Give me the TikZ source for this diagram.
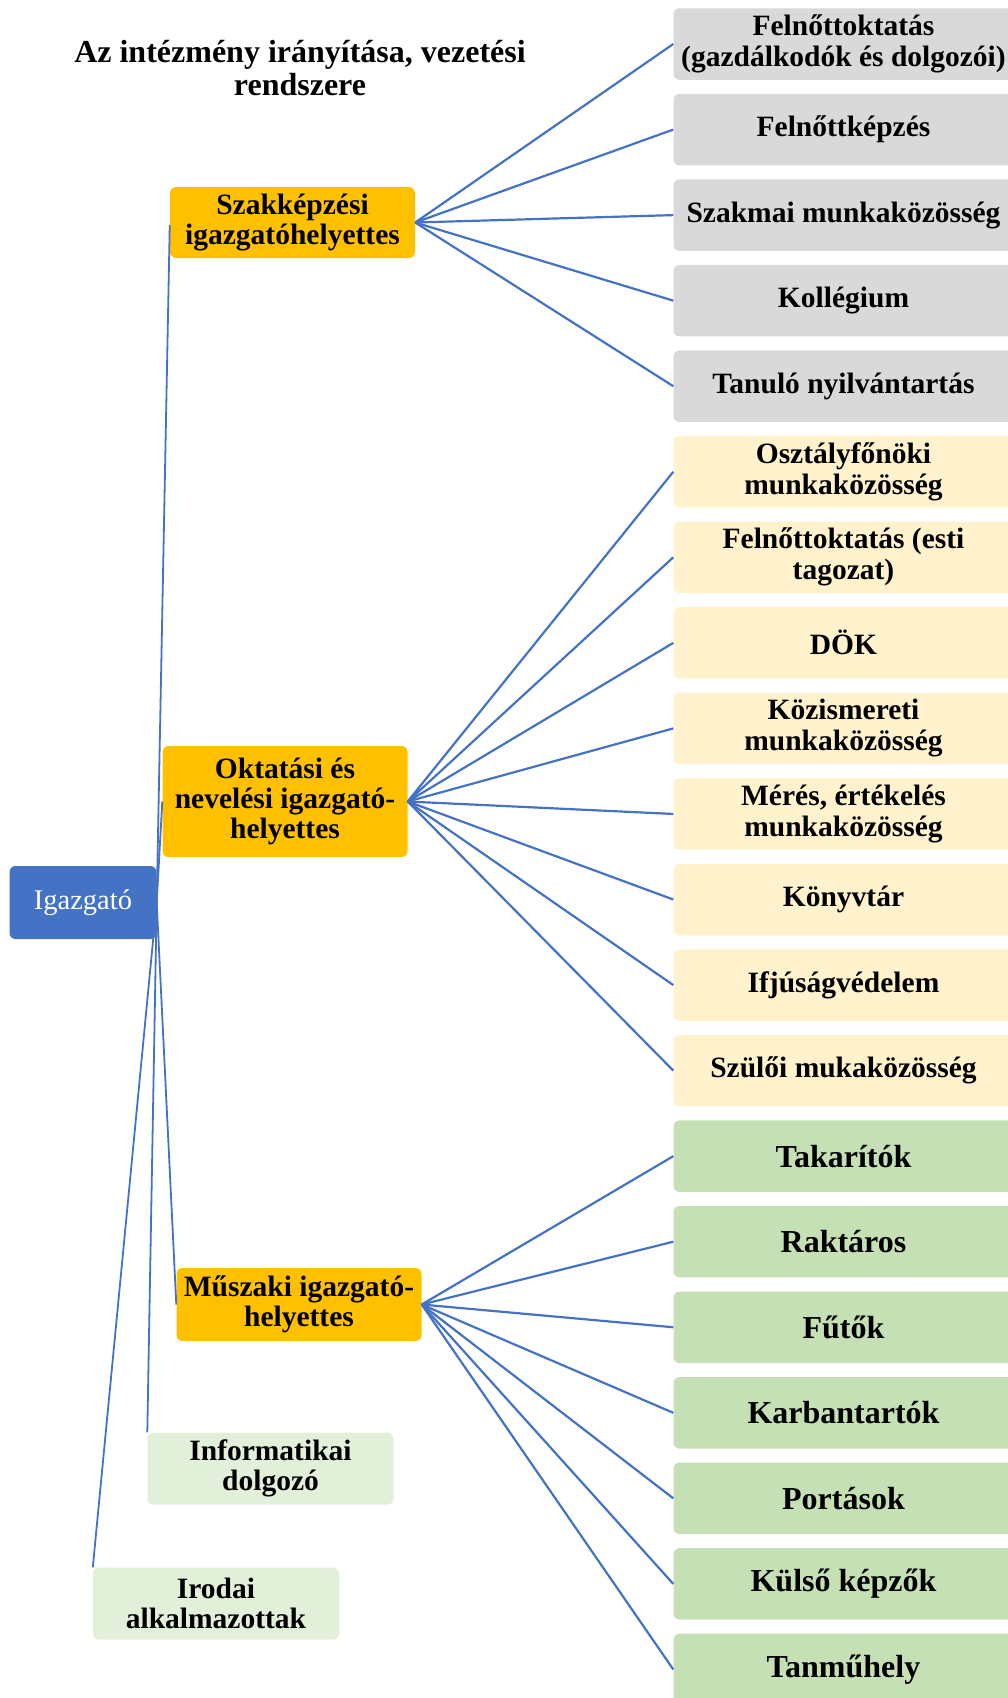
\documentclass[tikz,border=0pt]{standalone}
\usepackage{fontspec}
\setmainfont{Liberation Serif}
\definecolor{linkblue}{HTML}{4472C4}
\definecolor{headblue}{HTML}{4472C4}
\definecolor{deputy}{HTML}{FFC000}
\definecolor{unitgrey}{HTML}{D9D9D9}
\definecolor{unityellow}{HTML}{FFF2CC}
\definecolor{unitgreen}{HTML}{C5E0B4}
\definecolor{staffgreen}{HTML}{E2F0D9}
\tikzset{
  box/.style={rounded corners=6pt, align=center, inner sep=0pt, text=black,
    font=\fontsize{29.5}{30}\selectfont\bfseries},
  head/.style={box, fill=headblue, text=white, minimum width=147pt, minimum height=73pt,
    font=\fontsize{28.5}{30}\selectfont},
  deputybox/.style={box, fill=deputy, minimum width=245pt},
  staffbox/.style={box, fill=staffgreen, minimum width=246pt, minimum height=72pt},
  unit/.style={box, minimum width=340pt, minimum height=71.5pt,
    font=\fontsize{29.5}{31}\selectfont\bfseries},
  greyunit/.style={unit, fill=unitgrey},
  yellowunit/.style={unit, fill=unityellow},
  greenunit/.style={unit, fill=unitgreen, font=\fontsize{32}{34}\selectfont\bfseries},
  link/.style={draw=linkblue, line width=2.2pt},
}
\begin{document}
\begin{tikzpicture}[x=1pt, y=-1pt]
\useasboundingbox (0,0) rectangle (1008,1698);

% title
\node[align=center, font=\fontsize{32}{33}\selectfont\bfseries] (title) at (300,68)
  {Az intézmény irányítása, vezetési\\rendszere};

% head of the institution and the staff reporting to it
\node[head] (igazgato) at (83,902.5) {Igazgató};
\node[deputybox, minimum height=71pt] (szak) at (292.5,222.5) {Szakképzési\\igazgatóhelyettes};
\node[deputybox, minimum height=111pt] (okt) at (285,801.5) {Oktatási és\\nevelési igazgató-\\helyettes};
\node[deputybox, minimum height=73pt] (musz) at (299,1304.5) {Műszaki igazgató-\\helyettes};
\node[staffbox] (info) at (270.5,1468.5) {Informatikai\\dolgozó};
\node[staffbox] (iroda) at (216,1603.5) {Irodai\\alkalmazottak};

% units on the right, one row every 85.55pt
\foreach \name/\style/\txt [count=\i from 0] in {
  u0/greyunit/{Felnőttoktatás\\(gazdálkodók és dolgozói)},
  u1/greyunit/{Felnőttképzés},
  u2/greyunit/{Szakmai munkaközösség},
  u3/greyunit/{Kollégium},
  u4/greyunit/{Tanuló nyilvántartás},
  u5/yellowunit/{Osztályfőnöki\\munkaközösség},
  u6/yellowunit/{Felnőttoktatás (esti\\tagozat)},
  u7/yellowunit/{DÖK},
  u8/yellowunit/{Közismereti\\munkaközösség},
  u9/yellowunit/{Mérés, értékelés\\munkaközösség},
  u10/yellowunit/{Könyvtár},
  u11/yellowunit/{Ifjúságvédelem},
  u12/yellowunit/{Szülői mukaközösség},
  u13/greenunit/{Takarítók},
  u14/greenunit/{Raktáros},
  u15/greenunit/{Fűtők},
  u16/greenunit/{Karbantartók},
  u17/greenunit/{Portások},
  u18/greenunit/{Külső képzők},
  u19/greenunit/{Tanműhely}}
{
  \node[\style] (\name) at (843.5,{44+85.55*\i}) {\txt};
}

% links from the head
\draw[link, line width=1.8pt, shorten >=2.5pt] (igazgato.east) -- (szak.west);
\draw[link, line width=1.8pt] (igazgato.east) -- (okt.west);
\draw[link, line width=1.8pt] (igazgato.east) -- (musz.west);
\draw[link, line width=1.8pt] (igazgato.east) -- (info.north west);
\draw[link, line width=1.8pt] (igazgato.east) -- (iroda.north west);

% links from the deputies to their units
\foreach \k in {0,...,4} { \draw[link] (szak.east) -- (u\k.west); }
\foreach \k in {5,...,12} { \draw[link] (okt.east) -- (u\k.west); }
\foreach \k in {13,...,19} { \draw[link] (musz.east) -- (u\k.west); }
\end{tikzpicture}
\end{document}
